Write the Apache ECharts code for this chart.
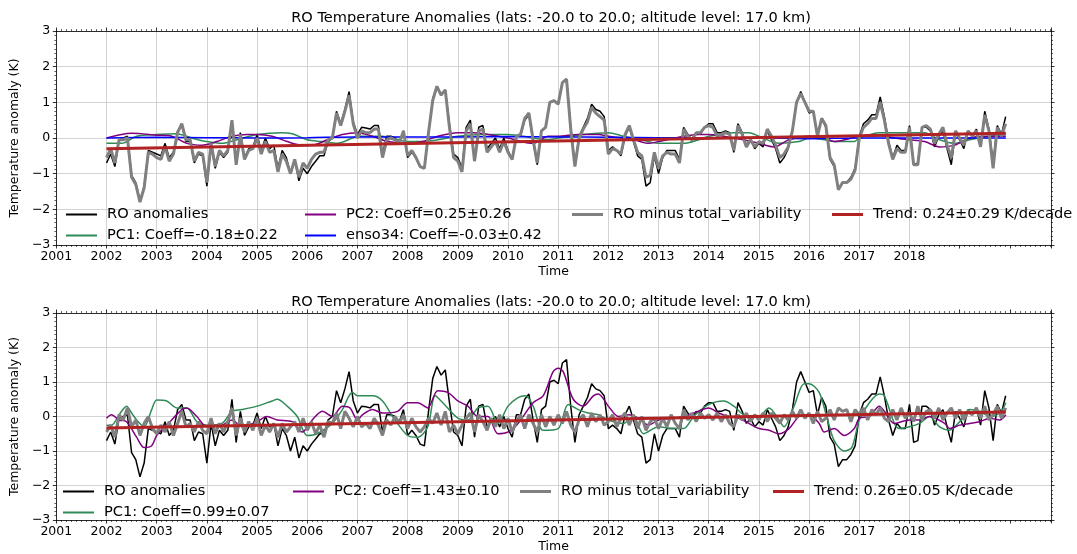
<!DOCTYPE html>
<html><head><meta charset="utf-8">
<script src="https://cdn.jsdelivr.net/npm/echarts@6/dist/echarts.min.js"></script>
<style>html,body{margin:0;padding:0;background:#fff}#c{width:1077px;height:554px}</style>
</head><body><div id="c"></div>
<script>
const startYear = 2002;
const titleText = 'RO Temperature Anomalies (lats: -20.0 to 20.0; altitude level: 17.0 km)';
const yearLabels = [2001,2002,2003,2004,2005,2006,2007,2008,2009,2010,2011,2012,2013,2014,2015,2016,2017,2018];
const yTicks = [-3,-2,-1,0,1,2,3];

// RO anomalies, monthly Jan 2002 - Dec 2019
const roAnom = [
-0.70,-0.45,-0.80,-0.05,0.00,0.05,-1.05,-1.25,-1.75,-1.35,-0.35,-0.40,
-0.45,-0.50,-0.15,-0.55,-0.40,0.20,0.35,-0.10,-0.10,-0.70,-0.45,-0.50,
-1.35,-0.20,-0.85,-0.40,-0.55,-0.40,0.50,-0.75,0.15,-0.55,-0.30,-0.25,
0.10,-0.35,0.00,-0.30,-0.20,-0.85,-0.35,-0.55,-1.00,-0.60,-1.20,-0.85,
-1.00,-0.80,-0.65,-0.50,-0.50,-0.10,0.00,0.75,0.40,0.80,1.30,0.45,
0.10,0.30,0.28,0.25,0.35,0.35,-0.45,0.05,0.05,0.00,-0.15,0.20,
-0.55,-0.40,-0.55,-0.80,-0.85,0.15,1.10,1.45,1.20,1.35,0.40,-0.45,
-0.55,-0.85,0.30,0.50,-0.60,0.30,0.35,-0.30,-0.15,0.00,-0.30,0.00,
-0.35,-0.60,0.05,0.05,0.50,0.65,-0.10,-0.75,0.20,0.30,1.00,1.05,
0.95,1.55,1.65,0.30,-0.75,0.05,0.30,0.55,0.95,0.80,0.75,0.60,
-0.35,-0.25,-0.35,-0.50,0.05,0.30,-0.10,-0.50,-0.60,-1.35,-1.25,-0.50,
-1.00,-0.55,-0.35,-0.35,-0.35,-0.60,0.30,0.10,-0.05,0.15,0.10,0.30,
0.40,0.40,0.15,0.15,0.20,0.15,-0.40,0.40,0.15,-0.20,-0.05,-0.30,
-0.15,-0.25,0.20,-0.05,-0.30,-0.70,-0.55,-0.30,0.20,1.00,1.30,1.00,
0.70,0.75,0.05,0.55,0.30,-0.60,-0.80,-1.45,-1.25,-1.25,-1.10,-0.85,
0.05,0.40,0.50,0.65,0.65,1.15,0.60,-0.10,-0.55,-0.20,-0.35,-0.35,
0.35,-0.75,-0.70,0.30,0.30,0.20,-0.25,0.05,0.20,-0.30,-0.75,0.15,
-0.05,-0.30,0.20,0.05,0.25,-0.25,0.75,0.25,-0.70,0.35,0.10,0.60
];

// top panel: RO minus total_variability
const residTop = [
-0.55,-0.30,-0.70,-0.05,-0.05,0.00,-1.10,-1.30,-1.80,-1.40,-0.40,-0.45,
-0.55,-0.60,-0.25,-0.65,-0.45,0.15,0.40,-0.05,-0.05,-0.65,-0.40,-0.45,
-1.25,-0.15,-0.80,-0.35,-0.50,-0.35,0.50,-0.75,0.10,-0.60,-0.35,-0.30,
0.00,-0.45,-0.10,-0.40,-0.35,-0.95,-0.45,-0.65,-1.00,-0.60,-1.10,-0.70,
-0.85,-0.60,-0.45,-0.40,-0.40,-0.05,0.00,0.70,0.35,0.75,1.20,0.40,
0.00,0.20,0.15,0.15,0.25,0.25,-0.55,-0.05,0.00,-0.05,-0.15,0.20,
-0.50,-0.35,-0.55,-0.80,-0.85,0.15,1.05,1.45,1.20,1.35,0.30,-0.55,
-0.65,-0.95,0.20,0.40,-0.65,0.20,0.25,-0.40,-0.25,-0.10,-0.40,-0.10,
-0.40,-0.60,0.05,0.10,0.55,0.70,-0.05,-0.70,0.20,0.30,1.00,1.05,
0.95,1.55,1.65,0.25,-0.80,0.00,0.25,0.45,0.85,0.70,0.60,0.50,
-0.45,-0.30,-0.35,-0.45,0.10,0.35,-0.05,-0.40,-0.50,-1.10,-1.05,-0.40,
-0.85,-0.50,-0.40,-0.45,-0.45,-0.70,0.25,0.05,-0.05,0.15,0.15,0.30,
0.35,0.30,0.05,0.10,0.15,0.10,-0.35,0.35,0.10,-0.25,-0.05,-0.25,
-0.10,-0.15,0.25,0.05,-0.20,-0.55,-0.45,-0.25,0.20,1.00,1.25,1.00,
0.75,0.75,0.05,0.55,0.35,-0.55,-0.75,-1.45,-1.25,-1.25,-1.15,-0.90,
0.00,0.30,0.40,0.55,0.55,1.00,0.50,-0.15,-0.60,-0.30,-0.40,-0.40,
0.30,-0.75,-0.75,0.30,0.35,0.25,-0.15,0.10,0.30,-0.20,-0.55,0.20,
0.00,-0.20,0.20,0.05,0.20,-0.25,0.65,0.20,-0.85,0.30,0.05,0.40
];

// bottom panel: RO minus total_variability
const residBot = [
-0.45,-0.25,-0.60,0.05,-0.10,0.25,-0.30,-0.10,-0.55,-0.20,0.00,-0.35,
-0.50,-0.25,-0.45,-0.15,-0.55,-0.20,0.15,-0.30,-0.20,-0.45,-0.15,-0.40,
-0.50,-0.05,-0.50,-0.20,-0.45,-0.15,0.25,-0.55,-0.05,-0.45,-0.15,-0.40,
-0.05,-0.55,-0.25,-0.45,-0.20,-0.60,-0.20,-0.45,-0.30,-0.15,-0.45,-0.05,
-0.40,-0.15,-0.50,-0.25,-0.60,-0.15,-0.20,0.10,-0.35,0.15,-0.05,-0.30,
0.00,-0.30,-0.20,-0.35,-0.05,-0.25,-0.55,-0.10,-0.25,0.00,-0.20,0.05,
-0.35,-0.05,-0.30,-0.45,-0.30,-0.05,-0.20,0.10,-0.25,0.15,-0.45,-0.25,
-0.50,-0.25,-0.05,0.10,-0.45,0.05,-0.15,-0.40,-0.05,-0.30,0.05,-0.35,
-0.05,-0.45,-0.15,0.05,-0.35,0.05,-0.20,-0.45,0.05,-0.30,0.00,-0.25,
0.05,-0.20,0.15,-0.25,-0.45,-0.10,0.05,-0.30,0.10,-0.15,0.05,-0.25,
-0.15,0.05,-0.30,-0.05,0.10,-0.25,0.05,-0.35,0.00,-0.40,-0.15,-0.05,
-0.35,-0.05,-0.30,0.05,-0.20,-0.35,0.20,-0.10,0.10,-0.15,0.10,-0.05,
0.05,-0.10,0.10,-0.15,0.05,-0.20,-0.30,0.05,-0.10,0.10,-0.15,0.05,
-0.10,0.10,-0.15,0.10,-0.05,-0.20,0.05,-0.10,0.15,-0.05,0.20,-0.05,
0.10,-0.20,0.15,-0.15,-0.05,0.20,-0.10,0.25,0.15,0.20,-0.15,0.20,
0.05,0.25,-0.10,0.20,0.05,0.25,-0.05,-0.15,0.20,-0.10,0.25,-0.05,
0.10,-0.15,0.30,-0.10,0.15,0.20,-0.05,0.25,-0.10,0.10,0.25,-0.05,
0.20,-0.10,0.15,0.05,0.25,-0.05,0.30,-0.10,0.05,0.30,-0.05,0.25
];

// top panel smooth contributions (time, value)
const pc1TopT = [2002.0,2002.3,2002.6,2003.0,2003.4,2003.7,2004.0,2004.3,2004.6,2005.0,2005.5,2005.7,2006.0,2006.3,2006.6,2006.9,2007.0,2007.5,2007.8,2008.0,2008.3,2008.6,2009.0,2009.5,2010.0,2010.5,2010.8,2011.0,2011.5,2012.0,2012.3,2012.8,2013.0,2013.5,2013.8,2014.0,2014.5,2014.8,2015.0,2015.4,2015.8,2016.0,2016.3,2016.5,2016.9,2017.0,2017.4,2017.7,2018.0,2018.3,2018.6,2018.9,2019.2,2019.6,2019.92];
const pc1TopV = [-0.15,-0.15,0.05,0.10,0.12,0.00,-0.10,-0.15,-0.05,0.10,0.15,0.12,-0.05,-0.10,-0.15,0.00,0.05,0.05,-0.05,-0.10,-0.10,-0.05,0.05,0.10,0.10,0.00,-0.05,0.00,0.10,0.15,0.05,-0.10,-0.15,-0.15,-0.05,0.05,0.15,0.15,0.05,-0.15,-0.10,0.00,-0.05,-0.10,-0.10,0.00,0.15,0.15,0.15,0.15,-0.05,-0.15,-0.05,0.05,0.10];
const pc2TopT = [2002.0,2002.3,2002.5,2003.0,2003.3,2003.6,2003.9,2004.2,2004.5,2004.8,2005.0,2005.3,2005.6,2005.9,2006.1,2006.4,2006.7,2007.0,2007.3,2007.6,2008.0,2008.3,2008.6,2009.0,2009.3,2009.6,2010.0,2010.5,2010.8,2011.0,2011.4,2011.8,2012.0,2012.5,2012.8,2013.0,2013.5,2013.8,2014.0,2014.5,2015.0,2015.3,2015.6,2016.0,2016.3,2016.5,2017.0,2017.3,2017.7,2018.0,2018.3,2018.6,2018.9,2019.2,2019.5,2019.92];
const pc2TopV = [0.00,0.10,0.13,0.08,0.05,-0.15,-0.20,-0.10,0.05,0.10,0.10,0.05,-0.10,-0.20,-0.20,-0.05,0.10,0.15,0.05,-0.10,-0.15,-0.10,0.05,0.15,0.15,0.10,0.00,-0.15,0.05,0.05,0.10,0.10,0.05,-0.05,-0.15,-0.10,0.05,0.10,0.10,0.00,-0.15,-0.25,-0.05,0.05,0.00,-0.10,0.05,0.10,0.00,-0.05,-0.10,-0.25,-0.20,0.00,0.05,0.05];
const ensoT = [2002,2003,2004,2005,2006,2007,2008,2009,2010,2011,2012,2013,2014,2015,2016,2017,2018,2019,2019.92];
const ensoV = [0.00,0.02,0.01,0.00,0.01,0.03,0.03,0.03,0.04,0.03,0.02,0.01,0.00,0.00,-0.02,0.00,0.00,0.00,0.00];

// bottom panel smooth contributions
const pc1BotT = [2002.0,2002.1,2002.25,2002.4,2002.5,2002.6,2002.75,2002.9,2003.0,2003.2,2003.4,2003.6,2003.8,2004.0,2004.3,2004.5,2004.7,2005.0,2005.3,2005.4,2005.6,2005.8,2006.0,2006.2,2006.5,2006.7,2006.9,2007.0,2007.3,2007.5,2007.7,2008.0,2008.2,2008.4,2008.55,2008.7,2009.0,2009.2,2009.4,2009.6,2009.8,2010.0,2010.2,2010.35,2010.5,2010.7,2011.0,2011.2,2011.4,2011.6,2011.8,2012.0,2012.3,2012.5,2012.7,2013.0,2013.3,2013.5,2013.7,2014.0,2014.3,2014.5,2014.7,2015.0,2015.2,2015.4,2015.5,2015.7,2015.9,2016.0,2016.2,2016.35,2016.5,2016.7,2016.85,2017.0,2017.2,2017.4,2017.5,2017.7,2017.8,2018.0,2018.2,2018.4,2018.6,2018.8,2019.0,2019.2,2019.4,2019.6,2019.8,2019.92];
const pc1BotV = [-0.25,-0.25,0.05,0.30,0.10,-0.10,-0.30,0.20,0.48,0.45,0.25,0.25,-0.15,-0.25,-0.20,0.15,0.20,0.30,0.45,0.50,0.30,0.00,-0.55,-0.50,-0.20,0.20,0.70,0.60,0.60,0.45,0.00,-0.55,-0.60,-0.30,0.60,0.40,-0.05,-0.10,0.25,0.30,-0.20,0.30,0.55,0.60,0.30,-0.40,-0.35,0.35,0.20,0.10,0.05,-0.10,-0.20,0.00,-0.50,-0.30,-0.35,-0.35,0.00,0.35,0.45,0.30,0.05,0.00,0.25,-0.10,-0.30,0.30,0.95,0.95,0.70,0.00,-0.70,-1.00,-0.90,-0.10,0.40,0.65,0.60,-0.20,-0.35,-0.30,-0.20,0.00,-0.30,-0.40,-0.15,0.20,0.15,0.00,0.10,0.40];
const pc2BotT = [2002.0,2002.1,2002.25,2002.4,2002.6,2002.75,2002.9,2003.0,2003.2,2003.5,2003.6,2003.8,2004.0,2004.3,2004.5,2004.7,2005.0,2005.2,2005.4,2005.7,2005.9,2006.1,2006.3,2006.5,2006.7,2006.85,2007.0,2007.1,2007.3,2007.5,2007.8,2008.0,2008.2,2008.4,2008.6,2008.8,2009.0,2009.2,2009.4,2009.6,2009.8,2010.0,2010.2,2010.5,2010.7,2010.9,2011.0,2011.1,2011.3,2011.5,2011.7,2011.8,2012.0,2012.2,2012.4,2012.6,2012.8,2013.0,2013.3,2013.5,2013.7,2014.0,2014.2,2014.4,2014.6,2014.8,2015.0,2015.2,2015.4,2015.6,2015.8,2016.0,2016.2,2016.3,2016.5,2016.7,2016.9,2017.0,2017.2,2017.4,2017.5,2017.7,2018.0,2018.2,2018.4,2018.7,2018.8,2019.0,2019.2,2019.4,2019.6,2019.8,2019.92];
const pc2BotV = [-0.05,0.05,-0.10,-0.15,-0.60,-0.90,-0.85,-0.55,-0.25,0.20,0.25,0.00,-0.30,-0.25,-0.10,-0.30,-0.15,0.00,-0.10,-0.15,-0.45,-0.10,0.15,0.00,0.30,0.25,-0.10,0.05,0.20,0.10,0.15,0.40,0.40,0.25,0.75,0.70,0.45,0.30,0.00,0.00,-0.50,-0.45,-0.20,0.40,0.60,1.30,1.40,1.30,0.50,0.30,0.60,0.65,0.30,0.00,0.05,-0.05,-0.25,-0.10,-0.05,0.00,0.10,0.25,0.10,0.00,-0.05,-0.20,-0.35,-0.40,-0.50,-0.35,0.00,0.05,-0.20,-0.45,-0.35,-0.55,-0.35,-0.05,0.00,0.30,0.15,-0.20,-0.10,-0.10,0.00,-0.20,-0.35,-0.25,-0.20,-0.15,-0.05,-0.10,0.05];

// linear trends (endpoints)
const trendT = [2002.0, 2019.92];
const trendTopV = [-0.30, 0.13];
const trendBotV = [-0.33, 0.13];

const topNames = ['RO anomalies','PC1: Coeff=-0.18\u00b10.22','PC2: Coeff=0.25\u00b10.26','enso34: Coeff=-0.03\u00b10.42','RO minus total_variability','Trend: 0.24\u00b10.29 K/decade'];
const botNames = ['RO anomalies ','PC1: Coeff=0.99\u00b10.07','PC2: Coeff=1.43\u00b10.10','RO minus total_variability ','Trend: 0.26\u00b10.05 K/decade'];

const C = {black:'#000000', green:'#2e8b57', purple:'#800080', blue:'#0000ff', gray:'#808080', red:'#b22222'};
const FONT = 'DejaVu Sans';
const TICKFS = 12.5, LEGFS = 14.6;

function monthly(v){ return v.map((y,i)=>[startYear + i/12, y]); }
function pairs(t,v){ return t.map((x,i)=>[x, v[i]]); }

const XMIN = 2001, XMAX = 2020.82;
const gridColors = [];
for (let i=0;i<25;i++) gridColors.push(i < yearLabels.length ? '#c8c8c8' : 'rgba(0,0,0,0)');

function xAxes(g){
  return [{
    type:'value', gridIndex:g, min:XMIN, max:XMAX, interval:1,
    axisLine:{show:true, onZero:false, lineStyle:{color:'#000', width:0.8}},
    axisTick:{show:true, inside:false, length:3.5, lineStyle:{color:'#000', width:0.8}},
    minorTick:{show:true, splitNumber:10, length:2, lineStyle:{color:'#000', width:0.6}},
    splitLine:{show:true, lineStyle:{color:gridColors, width:0.8}},
    axisLabel:{show:true, margin:5, fontFamily:FONT, fontSize:TICKFS, color:'#000', showMinLabel:true, showMaxLabel:true, hideOverlap:false,
      formatter:v => (yearLabels.indexOf(Math.round(v))>=0 && Math.abs(v-Math.round(v))<1e-6) ? String(Math.round(v)) : ''},
    name:'Time', nameLocation:'middle', nameGap:20, nameTextStyle:{fontFamily:FONT, fontSize:TICKFS, color:'#000'}
  },{
    type:'value', gridIndex:g, position:'top', min:XMIN, max:XMAX, interval:1,
    axisLine:{show:true, onZero:false, lineStyle:{color:'#000', width:0.8}},
    axisTick:{show:true, inside:false, length:3.5, lineStyle:{color:'#000', width:0.8}},
    minorTick:{show:true, splitNumber:10, length:2, lineStyle:{color:'#000', width:0.6}},
    splitLine:{show:false}, axisLabel:{show:false}
  }];
}
function yAxes(g){
  return [{
    type:'value', gridIndex:g, min:-3, max:3, interval:1,
    axisLine:{show:true, onZero:false, lineStyle:{color:'#000', width:0.8}},
    axisTick:{show:true, inside:false, length:3.5, lineStyle:{color:'#000', width:0.8}},
    minorTick:{show:true, splitNumber:8, length:2, lineStyle:{color:'#000', width:0.6}},
    splitLine:{show:true, lineStyle:{color:'#c8c8c8', width:0.8}},
    axisLabel:{margin:6, fontFamily:FONT, fontSize:TICKFS, color:'#000', formatter:v => String(v).replace('-', '\u2212')},
    name:'Temperature anomaly (K)', nameLocation:'middle', nameGap:27, nameRotate:90,
    nameTextStyle:{fontFamily:FONT, fontSize:TICKFS, color:'#000'}
  },{
    type:'value', gridIndex:g, position:'right', min:-3, max:3, interval:1,
    axisLine:{show:true, onZero:false, lineStyle:{color:'#000', width:0.8}},
    axisTick:{show:true, inside:false, length:3.5, lineStyle:{color:'#000', width:0.8}},
    minorTick:{show:true, splitNumber:8, length:2, lineStyle:{color:'#000', width:0.6}},
    splitLine:{show:false}, axisLabel:{show:false}
  }];
}

function line(name, data, color, width, xi, yi, z, smooth){
  return {type:'line', name, data, xAxisIndex:xi, yAxisIndex:yi, showSymbol:false, symbol:'none',
    smooth: smooth || false, lineStyle:{color, width}, itemStyle:{color}, z, silent:true};
}

const series = [
  line(topNames[0], monthly(roAnom), C.black, 1.5, 0, 0, 2),
  line(topNames[1], pairs(pc1TopT, pc1TopV), C.green, 1.5, 0, 0, 3, 0.3),
  line(topNames[2], pairs(pc2TopT, pc2TopV), C.purple, 1.5, 0, 0, 4, 0.3),
  line(topNames[3], pairs(ensoT, ensoV), C.blue, 1.5, 0, 0, 5, 0.3),
  line(topNames[4], monthly(residTop), C.gray, 3, 0, 0, 6),
  line(topNames[5], pairs(trendT, trendTopV), C.red, 3, 0, 0, 7),
  line(botNames[0], monthly(roAnom), C.black, 1.5, 2, 2, 2),
  line(botNames[1], pairs(pc1BotT, pc1BotV), C.green, 1.5, 2, 2, 3, 0.3),
  line(botNames[2], pairs(pc2BotT, pc2BotV), C.purple, 1.5, 2, 2, 4, 0.3),
  line(botNames[3], monthly(residBot), C.gray, 3, 2, 2, 6),
  line(botNames[4], pairs(trendT, trendBotV), C.red, 3, 2, 2, 7)
];

function legend(names, left, top, h){
  return {show:true, orient:'vertical', left, top, data:names, icon:'rect', itemWidth:31, itemHeight:h,
    itemGap:4, selectedMode:false, padding:0,
    textStyle:{fontFamily:FONT, fontSize:LEGFS, color:'#000', lineHeight:17, padding:[0,0,0,5]}};
}

const option = {
  animation:false,
  backgroundColor:'#fff',
  title:[
    {text:titleText, left:551, top:11, padding:0, textAlign:'center', textStyle:{fontFamily:FONT, fontSize:LEGFS, fontWeight:'normal', color:'#000'}},
    {text:titleText, left:551, top:295, padding:0, textAlign:'center', textStyle:{fontFamily:FONT, fontSize:LEGFS, fontWeight:'normal', color:'#000'}}
  ],
  grid:[
    {left:52, top:31, width:999, height:214},
    {left:52, top:313, width:999, height:207}
  ],
  xAxis:[...xAxes(0), ...xAxes(1)],
  yAxis:[...yAxes(0), ...yAxes(1)],
  legend:[
    legend([topNames[0], topNames[1]], 66, 206, 2),
    legend([topNames[2], topNames[3]], 305, 206, 2),
    legend([topNames[4]], 572, 206, 3),
    legend([topNames[5]], 832, 206, 3),
    legend([botNames[0], botNames[1]], 63, 483, 2),
    legend([botNames[2]], 293, 483, 2),
    legend([botNames[3]], 520, 483, 3),
    legend([botNames[4]], 773, 483, 3)
  ],
  series
};
const chart = echarts.init(document.getElementById('c'), null, {renderer:'canvas'});
chart.setOption(option);
</script></body></html>
